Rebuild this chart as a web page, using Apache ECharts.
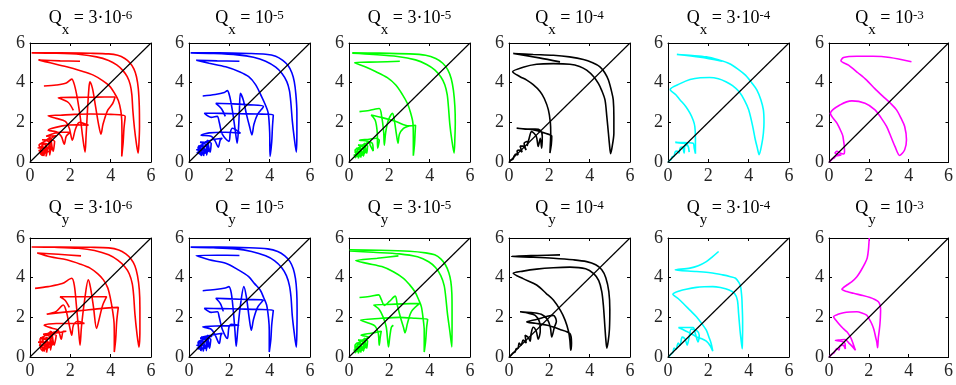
<!DOCTYPE html>
<html>
<head>
<meta charset="utf-8">
<script src="https://cdn.jsdelivr.net/npm/echarts@6/dist/echarts.min.js"></script>
<style>
  html, body { margin: 0; padding: 0; background: #fff; }
  #chart { width: 956px; height: 385px; }
</style>
</head>
<body>
<div id="chart"></div>
<script>
// trajectories, one array of strokes per panel
const qx3e6 = [
  [[0.08,5.5],[1.5,5.5],[3,5.48],[3.9,5.45],[4.35,5.38],[4.7,5.22],[4.95,5.0],[5.15,4.7],[5.28,4.3],[5.37,3.7],[5.42,2.8],[5.43,1.8],[5.4,0.9],[5.36,0.45],[5.28,0.9],[5.18,1.7],[5.1,2.6],[5.05,3.4],[4.97,3.9],[4.82,4.3],[4.6,4.62],[4.3,4.9],[3.9,5.12],[3.3,5.3],[2.5,5.42],[1.3,5.48],[0.1,5.5]],
  [[2.48,5.08],[1.5,5.1],[0.42,5.14],[1.0,5.0],[1.82,4.8],[2.5,4.6],[3.14,4.38],[3.6,4.1],[3.97,3.8],[4.2,3.45],[4.38,3.1],[4.5,2.6],[4.55,2.1],[4.56,1.2],[4.55,0.28],[4.62,1.0],[4.66,1.7],[4.72,2.3],[4.0,2.4],[3.0,2.42],[2.2,2.4],[1.5,2.36],[0.9,2.33],[1.3,2.2],[1.75,2.05],[1.95,1.7],[2.1,1.1],[2.25,1.65],[2.45,2.0],[2.9,1.85],[2.3,1.88],[1.6,1.82],[0.9,1.6],[1.3,1.52],[1.55,1.3],[1.7,0.9],[1.8,1.3],[2.0,1.5],[1.5,1.5],[0.8,1.3],
   [1.3,1.32],[1.05,1.15],[1.15,0.55],[1.22,1.05],[0.6,1.12],[0.95,0.98],[0.98,0.35],[1.05,0.9],[0.5,0.92],[0.82,0.8],[0.8,0.28],[0.9,0.75],[0.4,0.72],[0.7,0.65],[0.68,0.3],[0.75,0.58],[0.42,0.58],[0.6,0.5],[0.62,0.32],[0.5,0.45],[0.55,0.6],
   [0.45,0.85],[0.75,1.05],[1.0,1.25],[0.85,0.6],[0.6,0.85],[0.9,1.15],[1.1,0.7],[0.7,0.45],[0.5,0.7],[0.8,0.95],[0.65,0.4],[0.45,0.5]],
  [[0.69,3.83],[1.3,3.88],[1.8,3.98],[2.07,4.18],[2.2,3.9],[2.35,3.2],[2.5,2.2],[2.62,1.2],[2.73,0.5],[2.78,1.3],[2.85,2.6],[2.92,3.7],[2.97,4.05],[3.1,3.7],[3.25,2.8],[3.4,1.9],[3.52,1.4],[3.62,1.9],[3.85,2.6],[4.1,2.95],[4.22,3.28],[3.3,3.27],[2.3,3.26],[1.4,3.24],[1.9,3.0],[2.15,2.6]]
];
const qx1e5 = [
  [[0.08,5.5],[1.5,5.5],[3,5.47],[3.8,5.43],[4.3,5.33],[4.65,5.12],[4.92,4.85],[5.1,4.5],[5.22,4.05],[5.3,3.4],[5.35,2.5],[5.35,1.5],[5.32,0.5],[5.22,1.2],[5.12,2.1],[5.05,3.0],[4.98,3.6],[4.85,4.05],[4.62,4.45],[4.3,4.78],[3.8,5.08],[3.2,5.28],[2.4,5.4],[1.2,5.47],[0.1,5.5]],
  [[2.5,5.08],[1.4,5.1],[0.36,5.13],[1.0,4.98],[1.82,4.8],[2.5,4.55],[2.96,4.3],[3.3,3.9],[3.6,3.3],[3.8,2.85],[3.93,2.46],[4.0,1.5],[4.02,0.28],[4.1,1.0],[4.14,1.8],[4.18,2.37],[3.4,2.42],[2.5,2.43],[1.6,2.45],[0.76,2.46],[1.1,2.25],[1.4,2.3],[1.5,2.0],[1.65,1.4],[1.98,1.04],[2.05,1.5],[2.15,1.7],[2.55,1.45],[1.8,1.5],[1.0,1.47],[0.6,1.35],[1.1,1.3],[1.3,1.05],[1.45,0.75],[1.55,1.1],[1.65,1.2],[1.1,1.12],
   [1.2,1.15],[0.95,1.0],[1.05,0.5],[1.1,0.95],[0.55,1.0],[0.85,0.85],[0.88,0.35],[0.95,0.8],[0.45,0.8],[0.75,0.7],[0.72,0.3],[0.8,0.65],[0.38,0.62],[0.62,0.55],[0.6,0.3],[0.68,0.5],[0.4,0.48],[0.52,0.42],[0.48,0.55],
   [0.45,0.75],[0.7,0.9],[0.95,1.1],[0.8,0.5],[0.55,0.75],[0.85,1.0],[1.0,0.6],[0.6,0.4],[0.45,0.6],[0.7,0.85],[0.55,0.35]],
  [[0.68,3.33],[1.3,3.4],[1.75,3.5],[1.9,3.6],[2.02,3.3],[2.15,2.6],[2.28,1.7],[2.39,0.95],[2.45,1.6],[2.5,2.6],[2.55,3.46],[2.7,3.1],[2.85,2.4],[3.0,1.8],[3.12,1.37],[3.22,1.9],[3.4,2.4],[3.69,2.8],[3.0,2.88],[2.2,2.93],[1.33,2.96],[1.6,2.7],[1.8,2.3]]
];
const qx3e5 = [
  [[0.16,5.5],[1.5,5.49],[3,5.45],[3.8,5.38],[4.3,5.22],[4.65,4.98],[4.9,4.65],[5.07,4.2],[5.18,3.6],[5.25,2.8],[5.27,2.0],[5.25,1.2],[5.21,0.45],[5.1,1.1],[5.0,1.9],[4.93,2.8],[4.87,3.4],[4.75,3.9],[4.55,4.3],[4.25,4.65],[3.85,4.92],[3.3,5.15],[2.4,5.32],[1.2,5.42],[0.16,5.48]],
  [[2.52,5.08],[1.4,5.04],[0.28,5.0],[0.8,4.8],[1.34,4.55],[1.9,4.25],[2.32,3.88],[2.65,3.4],[2.89,2.96],[3.05,2.5],[3.17,1.96],[3.19,1.2],[3.19,0.32],[3.25,0.9],[3.28,1.5],[3.3,1.85],[2.97,1.82],[2.3,2.05],[1.6,2.25],[1.1,2.37],[1.3,2.1],[1.4,1.5],[1.42,0.7],[1.5,1.1],[1.34,1.2],[1.0,1.15],[0.52,1.1],[0.9,1.05],[1.15,0.95],[1.2,0.55],[1.05,0.85],
   [1.0,1.0],[0.8,0.88],[0.88,0.45],[0.92,0.82],[0.45,0.85],[0.7,0.72],[0.72,0.3],[0.78,0.66],[0.35,0.68],[0.6,0.58],[0.58,0.22],[0.65,0.52],[0.28,0.5],[0.48,0.45],[0.46,0.18],[0.52,0.4],[0.25,0.35],[0.38,0.32],[0.3,0.2],[0.35,0.38],
   [0.3,0.6],[0.55,0.75],[0.8,0.95],[0.65,0.4],[0.42,0.6],[0.7,0.85],[0.85,0.55],[0.5,0.3],[0.35,0.5],[0.6,0.7],[0.4,0.25]],
  [[0.52,2.54],[1.0,2.6],[1.5,2.7],[1.62,2.3],[1.72,1.5],[1.75,0.85],[1.82,1.5],[1.95,2.1],[2.16,2.46],[2.25,2.1],[2.35,1.4],[2.43,0.95],[2.5,1.4],[2.7,1.7],[2.97,1.82]]
];
const qx1e4 = [
  [[2.53,5.05],[1.5,5.25],[0.21,5.47],[1.2,5.42],[2.2,5.38],[3.0,5.3],[3.69,5.17],[4.15,5.0],[4.51,4.8],[4.75,4.5],[4.93,4.13],[5.1,3.5],[5.17,3.13],[5.2,2.3],[5.2,1.45],[5.12,0.8],[5.04,0.42],[4.98,0.9],[4.93,1.45],[4.85,2.3],[4.76,3.13],[4.6,3.6],[4.43,3.96],[4.2,4.3],[3.85,4.63],[3.5,4.82],[3.02,4.93],[2.2,4.96],[1.37,4.93],[0.7,4.78],[0.18,4.55],[0.55,4.3],[0.88,4.13],[1.2,3.9],[1.54,3.56],[1.75,3.2],[1.95,2.64],[2.05,2.0],[2.07,1.45],[2.05,0.9],[2.03,0.45],[2.1,0.9],[2.12,1.3],[1.8,1.45],[1.4,1.58],[0.9,1.66],[0.38,1.7],[0.8,1.66],[1.3,1.66],[1.55,1.6],[1.65,1.3],[1.62,0.7],[1.55,1.2],[1.45,0.78],[1.35,1.3],[1.12,1.53],[1.0,1.2],[0.9,0.8],
   [0.95,1.05],[0.75,0.95],[0.85,0.6],[0.7,0.8],[0.55,0.8],[0.65,0.5],[0.5,0.6],[0.4,0.55],[0.45,0.35],[0.35,0.4],[0.25,0.3],[0.2,0.15],[0.1,0.1],[0.02,0.02]]
];
const qx3e4 = [
  [[2.67,5.08],[1.6,5.28],[0.44,5.42],[1.2,5.37],[1.9,5.3],[2.5,5.15],[3.03,4.97],[3.45,4.7],[3.84,4.38],[4.15,4.0],[4.41,3.63],[4.6,3.15],[4.73,2.63],[4.76,2.0],[4.73,1.45],[4.65,0.9],[4.52,0.37],[4.42,0.75],[4.33,1.12],[4.2,1.8],[4.0,2.63],[3.8,3.1],[3.52,3.55],[3.2,3.85],[2.87,4.05],[2.5,4.2],[2.06,4.26],[1.6,4.25],[1.09,4.16],[0.6,3.95],[0.11,3.66],[0.4,3.38],[0.6,3.13],[0.88,2.8],[1.09,2.46],[1.25,2.1],[1.33,1.79],[1.36,1.2],[1.36,0.42],[1.3,0.7],[1.25,0.95],[1.0,0.97],[0.7,0.98],[0.36,0.99],[0.7,0.95],[0.95,0.9],[1.05,0.5],[1.0,0.8],[0.85,0.85],[0.8,0.45],[0.72,0.75],[0.6,0.7],[0.55,0.45],[0.45,0.55],[0.35,0.5],[0.3,0.3],[0.2,0.25],[0.15,0.12],[0.05,0.05],[0,0]]
];
const qx1e3 = [
  [[4.14,5.05],[3.06,5.27],[2.2,5.33],[1.4,5.33],[0.73,5.27],[0.6,5.1],[0.98,4.88],[1.45,4.5],[1.89,4.13],[2.3,3.7],[2.72,3.3],[3.1,2.95],[3.39,2.63],[3.62,2.2],[3.8,1.79],[3.89,1.12],[3.8,0.62],[3.55,0.33],[3.31,0.79],[3.1,1.3],[2.89,1.79],[2.6,2.25],[2.31,2.63],[1.81,2.96],[1.15,3.08],[0.56,2.88],[0.07,2.46],[0.4,1.96],[0.6,1.55],[0.7,1.29],[0.78,0.54],[0.73,0.4],[0.55,0.45],[0.4,0.54],[0.3,0.45],[0.45,0.38],[0.6,0.35],[0.35,0.3],[0.25,0.2],[0.15,0.15],[0.05,0.03],[0,0]]
];
const qy3e6 = [
  [[0.08,5.55],[1.5,5.55],[3,5.53],[3.9,5.5],[4.4,5.4],[4.75,5.2],[5.0,4.95],[5.2,4.6],[5.33,4.1],[5.42,3.4],[5.45,2.5],[5.45,1.4],[5.4,0.5],[5.3,1.2],[5.2,2.2],[5.14,3.1],[5.07,3.7],[4.92,4.2],[4.7,4.55],[4.35,4.88],[3.9,5.15],[3.2,5.37],[2.4,5.48],[1.2,5.53],[0.1,5.55]],
  [[2.53,5.1],[1.4,5.18],[0.36,5.24],[1.0,5.05],[1.82,4.9],[2.5,4.68],[2.98,4.48],[3.35,4.2],[3.64,3.89],[3.85,3.5],[3.97,3.04],[4.1,2.3],[4.17,1.69],[4.18,0.9],[4.18,0.25],[4.25,0.9],[4.3,1.8],[4.38,2.5],[3.6,2.45],[2.6,2.35],[1.6,2.25],[0.83,2.16],[1.3,2.3],[1.65,2.62],[1.8,2.3],[1.95,1.6],[2.07,1.1],[2.15,1.6],[2.35,1.8],[2.7,1.69],[2.0,1.69],[1.3,1.69],[0.7,1.6],[1.1,1.45],[1.4,1.35],[1.55,0.9],[1.65,1.3],[1.8,1.3],[1.2,1.2],[0.7,1.15],
   [1.4,1.3],[1.1,1.2],[1.2,0.6],[1.3,1.1],[0.65,1.15],[1.0,1.0],[1.02,0.35],[1.1,0.92],[0.5,0.95],[0.85,0.82],[0.82,0.22],[0.92,0.75],[0.4,0.75],[0.72,0.66],[0.7,0.28],[0.78,0.6],[0.45,0.6],[0.62,0.5],[0.64,0.3],[0.52,0.45],
   [0.5,0.9],[0.8,1.1],[1.05,1.3],[0.9,0.55],[0.6,0.9],[0.95,1.2],[1.15,0.7],[0.7,0.4],[0.5,0.65],[0.85,1.0],[0.65,0.35]],
  [[0.25,3.46],[0.9,3.55],[1.6,3.7],[2.07,3.97],[2.2,3.6],[2.3,2.6],[2.4,1.5],[2.48,0.59],[2.55,1.5],[2.7,2.8],[2.89,3.89],[3.0,3.5],[3.15,2.5],[3.3,1.44],[3.45,2.0],[3.6,2.6],[3.8,3.04],[3.0,3.04],[2.2,3.04],[1.49,3.04],[1.75,2.85],[1.95,2.5]]
];
const qy1e5 = [
  [[0.08,5.54],[1.5,5.54],[3,5.51],[3.9,5.45],[4.4,5.32],[4.75,5.1],[5.0,4.82],[5.17,4.45],[5.28,3.95],[5.34,3.3],[5.36,2.4],[5.35,1.3],[5.32,0.5],[5.22,1.2],[5.12,2.1],[5.06,3.0],[4.98,3.6],[4.83,4.1],[4.6,4.5],[4.25,4.85],[3.8,5.1],[3.1,5.32],[2.3,5.45],[1.2,5.51],[0.1,5.54]],
  [[2.5,5.12],[1.4,5.13],[0.36,5.12],[1.0,4.9],[1.82,4.73],[2.4,4.42],[2.96,4.05],[3.25,3.7],[3.53,3.38],[3.7,3.0],[3.85,2.62],[3.95,1.9],[3.98,1.35],[3.98,0.25],[4.06,0.9],[4.1,1.6],[4.18,2.36],[3.4,2.4],[2.5,2.42],[1.6,2.44],[0.76,2.45],[1.1,2.25],[1.41,2.28],[1.5,2.0],[1.65,1.4],[1.9,0.93],[1.98,1.5],[2.1,1.65],[2.47,1.6],[1.7,1.57],[0.68,1.52],[1.1,1.4],[1.3,1.1],[1.5,0.68],[1.58,1.1],[1.65,1.2],[1.1,1.1],[0.6,1.0],
   [1.15,1.05],[0.95,0.95],[1.02,0.45],[1.08,0.9],[0.55,0.95],[0.85,0.82],[0.86,0.32],[0.93,0.78],[0.45,0.78],[0.75,0.68],[0.7,0.28],[0.78,0.62],[0.38,0.6],[0.62,0.52],[0.58,0.3],[0.66,0.48],[0.4,0.45],[0.5,0.4],
   [0.45,0.75],[0.7,0.9],[0.95,1.1],[0.8,0.5],[0.55,0.75],[0.85,1.0],[1.0,0.6],[0.6,0.4],[0.45,0.6],[0.7,0.85],[0.55,0.35]],
  [[0.68,3.34],[1.3,3.4],[1.8,3.48],[1.98,3.55],[2.1,3.2],[2.2,2.3],[2.28,1.3],[2.34,0.54],[2.42,1.4],[2.55,2.6],[2.72,3.55],[2.85,3.0],[2.98,2.0],[3.09,1.35],[3.2,1.9],[3.4,2.5],[3.69,2.87],[2.9,2.9],[2.1,2.93],[1.33,2.96],[1.55,2.7],[1.7,2.3]]
];
const qy3e5 = [
  [[0.03,5.4],[1.5,5.38],[3,5.33],[3.8,5.25],[4.25,5.15],[4.55,4.95],[4.78,4.65],[4.95,4.25],[5.05,3.8],[5.1,3.2],[5.11,2.4],[5.11,1.5],[5.1,0.51],[5.0,1.3],[4.88,2.2],[4.8,3.0],[4.72,3.6],[4.55,4.1],[4.3,4.5],[3.95,4.8],[3.4,5.05],[2.5,5.2],[1.2,5.28],[0.05,5.35]],
  [[2.45,5.1],[1.4,4.98],[0.33,4.86],[0.9,4.72],[1.63,4.56],[2.2,4.3],[2.7,3.97],[3.0,3.65],[3.27,3.29],[3.45,2.9],[3.59,2.53],[3.68,1.9],[3.73,1.35],[3.73,0.25],[3.8,0.8],[3.85,1.5],[3.9,1.9],[3.3,1.95],[2.5,2.0],[1.6,1.95],[0.57,1.86],[1.0,1.7],[1.3,1.55],[1.45,1.2],[1.5,0.6],[1.55,1.0],[1.6,1.3],[1.1,1.2],[0.6,1.1],
   [1.0,1.0],[0.8,0.88],[0.88,0.45],[0.92,0.82],[0.45,0.85],[0.7,0.72],[0.72,0.3],[0.78,0.66],[0.35,0.68],[0.6,0.58],[0.58,0.22],[0.65,0.52],[0.28,0.5],[0.48,0.45],[0.46,0.18],[0.52,0.4],[0.25,0.35],[0.38,0.32],[0.3,0.2],
   [0.3,0.6],[0.55,0.75],[0.8,0.95],[0.65,0.4],[0.42,0.6],[0.7,0.85],[0.85,0.55],[0.5,0.3],[0.35,0.5],[0.6,0.7],[0.4,0.25]],
  [[0.52,3.0],[1.0,3.05],[1.47,3.13],[1.6,2.9],[1.75,2.6],[2.0,2.8],[2.29,3.07],[2.4,2.6],[2.55,2.0],[2.7,1.5],[2.78,1.22],[2.9,1.7],[3.1,2.3],[3.51,2.7],[2.7,2.68],[1.9,2.65],[1.23,2.62],[1.5,2.4],[1.7,2.0],[1.85,1.5],[1.96,0.51],[2.02,1.0],[2.1,1.5],[2.2,1.6]]
];
const qy1e4 = [
  [[2.53,5.15],[1.4,5.12],[0.13,5.07],[1.2,5.03],[2.2,4.98],[3.2,4.9],[3.85,4.81],[4.3,4.65],[4.6,4.4],[4.8,4.0],[4.95,3.3],[5.0,2.4],[4.98,1.4],[4.92,0.8],[4.85,0.45],[4.8,0.9],[4.75,1.6],[4.68,2.6],[4.6,3.3],[4.45,3.85],[4.2,4.2],[3.8,4.45],[3.02,4.53],[2.2,4.5],[1.37,4.43],[0.7,4.33],[0.21,4.22],[0.7,3.95],[1.37,3.63],[1.85,3.2],[2.2,2.87],[2.55,2.35],[2.78,1.86],[2.95,1.3],[3.02,0.84],[3.06,0.34],[3.1,0.7],[3.02,1.18],[2.5,1.4],[1.9,1.6],[1.3,1.7],[0.88,1.77],[1.4,1.9],[1.9,2.05],[2.2,2.1],[2.35,1.8],[2.25,1.5],[2.12,1.01],[2.05,1.5],[1.9,1.9],[1.6,2.15],[1.1,2.24],[0.55,2.28],[1.0,2.2],[1.3,2.1],[1.5,1.8],[1.55,1.3],[1.45,0.9],[1.35,1.3],[1.2,1.5],[1.1,1.2],[1.05,0.8],[0.95,1.0],[0.8,1.1],[0.85,0.7],[0.7,0.85],[0.6,0.6],[0.5,0.7],[0.45,0.45],[0.35,0.4],[0.3,0.25],[0.2,0.2],[0.1,0.08],[0.02,0.02]]
];
const qy3e4 = [
  [[2.51,5.32],[2.2,5.05],[1.9,4.81],[1.5,4.6],[1.09,4.48],[0.36,4.39],[1.41,4.31],[2.1,4.25],[2.71,4.14],[3.1,4.05],[3.35,3.97],[3.52,3.75],[3.6,3.55],[3.66,3.0],[3.68,2.53],[3.7,1.8],[3.7,1.35],[3.69,0.8],[3.68,0.42],[3.62,0.9],[3.57,1.35],[3.5,2.2],[3.44,2.87],[3.3,3.2],[3.03,3.38],[2.6,3.5],[2.22,3.55],[1.8,3.54],[1.41,3.51],[0.9,3.42],[0.6,3.34],[0.24,3.16],[0.5,2.95],[0.76,2.7],[1.1,2.35],[1.41,2.03],[1.7,1.65],[1.9,1.35],[2.05,0.95],[2.14,0.68],[2.22,0.29],[2.1,0.55],[1.9,0.8],[1.6,0.95],[1.41,1.01],[1.2,1.15],[0.9,1.3],[0.52,1.49],[0.9,1.49],[1.25,1.49],[1.35,1.2],[1.49,0.76],[1.55,1.1],[1.4,1.35],[1.15,1.4],[1.05,1.0],[0.95,0.6],[0.85,0.9],[0.7,1.0],[0.6,0.6],[0.5,0.7],[0.4,0.4],[0.3,0.45],[0.25,0.25],[0.15,0.15],[0.08,0.05],[0.02,0.02]]
];
const qy1e3 = [
  [[2.02,6.0],[1.98,5.41],[1.92,5.0],[1.81,4.73],[1.6,4.35],[1.4,4.05],[1.15,3.8],[0.9,3.63],[0.65,3.41],[0.9,3.3],[1.23,3.21],[1.7,3.1],[2.06,3.0],[2.3,2.9],[2.48,2.79],[2.57,2.6],[2.59,2.36],[2.58,2.0],[2.56,1.69],[2.52,1.3],[2.48,1.01],[2.46,0.7],[2.44,0.47],[2.4,0.75],[2.34,1.01],[2.25,1.4],[2.14,1.69],[2.0,1.95],[1.89,2.11],[1.65,2.22],[1.4,2.28],[1.05,2.27],[0.73,2.23],[0.45,2.15],[0.23,2.03],[0.35,1.85],[0.48,1.69],[0.7,1.45],[0.9,1.27],[1.05,1.05],[1.15,0.84],[1.25,0.55],[1.33,0.34],[1.2,0.5],[1.0,0.7],[0.81,0.88],[0.55,0.86],[0.32,0.84],[0.6,0.8],[0.8,0.7],[0.82,0.4],[0.7,0.6],[0.55,0.55],[0.5,0.35],[0.4,0.42],[0.3,0.3],[0.25,0.2],[0.15,0.15],[0.05,0.05],[0,0]]
];

const panels = [qx3e6, qx1e5, qx3e5, qx1e4, qx3e4, qx1e3, qy3e6, qy1e5, qy3e5, qy1e4, qy3e4, qy1e3];
const colors = ['#ff0000', '#0000ff', '#00ff00', '#000000', '#00ffff', '#ff00ff'];
const qValues = [['3·10', '-6'], ['10', '-5'], ['3·10', '-5'], ['10', '-4'], ['3·10', '-4'], ['10', '-3']];
const subs = ['x', 'y'];
const tickValues = [0, 2, 4, 6];
const diagonal = [[0, 0], [6, 6]];

const lefts = [30, 189, 349, 509, 668, 829];
const tops = [43, 238];
const W = 121, H = 119;
const FONT = 'Liberation Serif';

const chart = echarts.init(document.getElementById('chart'));

const grid = [], xAxis = [], yAxis = [], series = [], title = [];

const axisCommon = {
  type: 'value',
  min: tickValues[0],
  max: tickValues[tickValues.length - 1],
  interval: 2,
  axisLine: { show: true, onZero: false, lineStyle: { color: '#000', width: 1 } },
  axisTick: { show: true, inside: true, length: 3, lineStyle: { color: '#000' } },
  splitLine: { show: false }
};
const labelStyle = { color: '#262626', fontFamily: FONT, fontSize: 18 };

// title pieces: main text, subscript (pushed down by top padding), superscript
const richStyle = {
  m: { fontFamily: FONT, fontSize: 18, fontWeight: 'normal', color: '#000', lineHeight: 26, verticalAlign: 'top' },
  s: { fontFamily: FONT, fontSize: 15, fontWeight: 'normal', color: '#000', lineHeight: 16, verticalAlign: 'top', padding: [14, 0, 0, 0] },
  p: { fontFamily: FONT, fontSize: 13, fontWeight: 'normal', color: '#000', lineHeight: 14, verticalAlign: 'top' }
};

panels.forEach((strokes, i) => {
  const row = Math.floor(i / 6), col = i % 6;
  grid.push({ left: lefts[col], top: tops[row], width: W, height: H });

  xAxis.push(Object.assign({}, axisCommon, { gridIndex: i, position: 'bottom', axisLabel: Object.assign({ margin: 5 }, labelStyle) }));
  xAxis.push(Object.assign({}, axisCommon, { gridIndex: i, position: 'top', axisLabel: { show: false } }));
  yAxis.push(Object.assign({}, axisCommon, { gridIndex: i, position: 'left', axisLabel: Object.assign({ margin: 5 }, labelStyle) }));
  yAxis.push(Object.assign({}, axisCommon, { gridIndex: i, position: 'right', axisLabel: { show: false } }));

  strokes.forEach(s => {
    series.push({
      type: 'line', xAxisIndex: 2 * i, yAxisIndex: 2 * i,
      data: s, showSymbol: false, symbol: 'none', clip: true,
      smooth: 0.3,
      lineStyle: { color: colors[col], width: 1.6 }
    });
  });
  series.push({
    type: 'line', xAxisIndex: 2 * i, yAxisIndex: 2 * i,
    data: diagonal, showSymbol: false, symbol: 'none',
    lineStyle: { color: '#000', width: 1.2 }
  });

  const q = qValues[col];
  title.push({
    left: lefts[col] + W / 2,
    top: row === 0 ? 9 : 199,
    textAlign: 'center',
    padding: 0,
    text: '{m|Q}{s|' + subs[row] + '}{m| = ' + q[0] + '}{p|' + q[1] + '}',
    textStyle: { fontWeight: 'normal', rich: richStyle }
  });
});

chart.setOption({
  animation: false,
  backgroundColor: '#fff',
  title: title,
  grid: grid,
  xAxis: xAxis,
  yAxis: yAxis,
  series: series
});
</script>
</body>
</html>
